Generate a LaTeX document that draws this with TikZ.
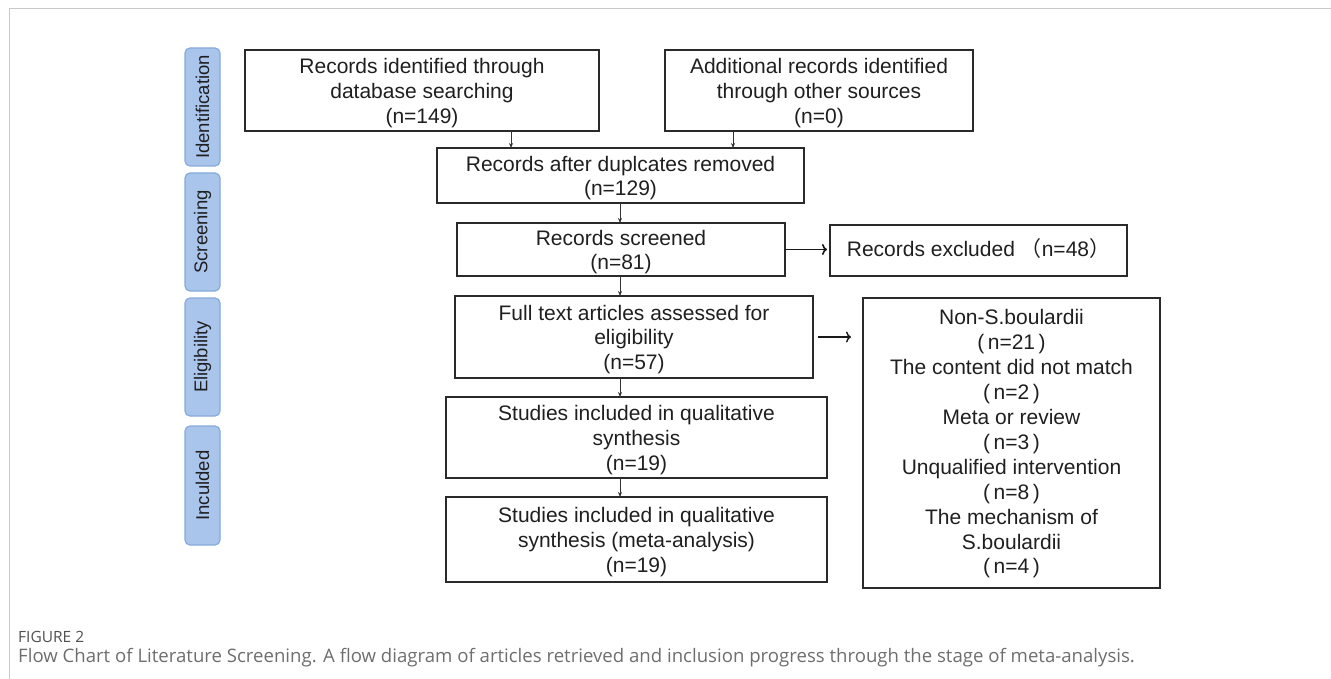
\documentclass[tikz,border=0pt]{standalone}
\usepackage{fontspec}
\setmainfont{Liberation Sans}
\newfontfamily\cjk{Noto Sans CJK SC}
\newfontfamily\capfont{Open Sans}
\usetikzlibrary{arrows.meta}
\definecolor{frame}{HTML}{C8C8C8}
\definecolor{boxline}{HTML}{2A2A2A}
\definecolor{sidefill}{HTML}{A9C5EC}
\definecolor{sideline}{HTML}{86AADB}
\definecolor{captxt}{HTML}{5E5E5E}
\newcommand\lowtxt[2][-3pt]{\raisebox{#1}[\height][\depth]{\begin{tabular}{@{}c@{}}#2\end{tabular}}}
\tikzset{
  box/.style={draw=boxline, line width=1.4pt, inner sep=0pt, outer sep=0pt, align=center,
    font=\fontsize{21}{24.7}\selectfont, text=black!88},
  side/.style={draw=sideline, fill=sidefill, line width=1.2pt, rounded corners=5pt, rotate=90,
    minimum height=35pt, inner sep=0pt, outer sep=0pt, font=\fontsize{18.5}{20}\selectfont, text=black!88},
  varrow/.style={draw=black!80, line width=0.8pt, -{Stealth[length=5pt,width=4pt]}},
  harrow/.style={draw=black!90, line width=1.6pt, -{To[length=5pt,width=11pt]}}
}
\begin{document}
\begin{tikzpicture}[x=1pt,y=-1pt]
\useasboundingbox (0,0) rectangle (1331,679);
% frame
\draw[frame, line width=1pt] (9,679) -- (9,9) -- (1331,9);
% side labels
\node[side, minimum width=118pt] (sid) at (202.5,107) {Identification};
\node[side, minimum width=118pt] (ssc) at (202.5,232) {Screening};
\node[side, minimum width=118pt] (sel) at (202.5,357) {Eligibility};
\node[side, minimum width=119pt] (sin) at (202.5,485.5) {Inculded};
% boxes
\node[box, minimum width=354pt, minimum height=81pt] (b1) at (422,90.5) {\lowtxt{Records identified through\\database searching\\(n=149)}};
\node[box, minimum width=308pt, minimum height=81pt] (b2) at (819,90.5) {\lowtxt{Additional records identified\\through other sources\\(n=0)}};
\node[box, minimum width=367pt, minimum height=55pt] (b3) at (620.5,175.5) {\lowtxt{Records after duplcates removed\\(n=129)}};
\node[box, minimum width=328pt, minimum height=53pt] (b4) at (621,249.5) {\lowtxt{Records screened\\(n=81)}};
\node[box, minimum width=297pt, minimum height=51pt] (ex) at (978.5,250.5) {\lowtxt[-1pt]{Records excluded {\cjk （}n=48{\cjk ）}}};
\node[box, minimum width=358pt, minimum height=82pt] (b5) at (634,337) {\lowtxt{Full text articles assessed for\\eligibility\\(n=57)}};
\node[box, minimum width=297pt, minimum height=290pt, font=\fontsize{21}{24.9}\selectfont] (rs) at (1011.5,443) {\lowtxt[-1.5pt]{Non-S.boulardii\\(\,n=21\,)\\The content did not match\\(\,n=2\,)\\Meta or review\\(\,n=3\,)\\Unqualified intervention\\(\,n=8\,)\\The mechanism of\\S.boulardii\\(\,n=4\,)}};
\node[box, minimum width=381pt, minimum height=81pt] (b6) at (636.5,437.5) {\lowtxt{Studies included in qualitative\\synthesis\\(n=19)}};
\node[box, minimum width=381pt, minimum height=85pt] (b7) at (636.5,539.5) {\lowtxt{Studies included in qualitative\\synthesis (meta-analysis)\\(n=19)}};
% connector columns
\coordinate (xa) at (511,0);
\coordinate (xb) at (733,0);
\coordinate (xm) at (620,0);
\draw[varrow] (b1.south -| xa) -- (b3.north -| xa);
\draw[varrow] (b2.south -| xb) -- (b3.north -| xb);
\draw[varrow] (b3.south -| xm) -- (b4.north -| xm);
\draw[varrow] (b4.south -| xm) -- (b5.north -| xm);
\draw[varrow] (b5.south -| xm) -- (b6.north -| xm);
\draw[varrow] (b6.south -| xm) -- (b7.north -| xm);
\draw[harrow, shorten >=3pt] (b4.east) -- (b4.east -| ex.west);
\draw[harrow, line width=1.4pt, shorten <=5pt, shorten >=12pt] (b5.east) -- (b5.east -| rs.west);
% caption
\node[anchor=base west, inner sep=0pt, text=captxt!85!black, font=\capfont\fontsize{15.5}{17}\selectfont] (cap1) at (18,642) {FIGURE 2};
\node[anchor=base west, inner sep=0pt, text=captxt!90, font=\capfont\fontsize{18.6}{21}\selectfont] (cap2) at (18,662) {Flow Chart of Literature Screening. A flow diagram of articles retrieved and inclusion progress through the stage of meta-analysis.};
\end{tikzpicture}
\end{document}
